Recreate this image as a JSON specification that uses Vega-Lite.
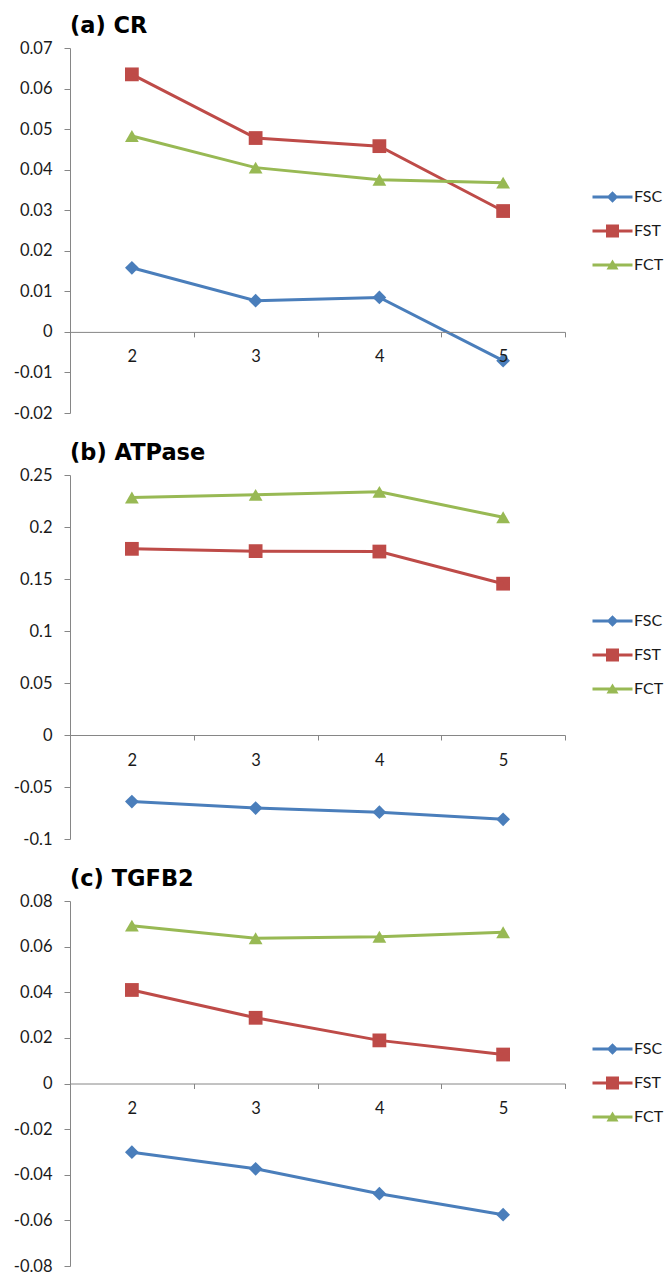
{
  "$schema": "https://vega.github.io/schema/vega-lite/v6.json",
  "background": "white",
  "padding": {"left": 10, "top": 15, "right": 0, "bottom": 0},
  "config": {
    "view": {"stroke": null},
    "font": "Lato",
    "concat": {"spacing": 20},
    "title": {"anchor": "start", "frame": "group", "font": "DejaVu Sans", "fontSize": 22.5, "fontWeight": "bold", "color": "#000000", "baseline": "alphabetic", "offset": 2.5},
    "axis": {"grid": false, "domainColor": "#868686", "tickColor": "#868686", "labelColor": "#1a1a1a", "labelFont": "Lato", "labelFontSize": 16.5, "title": null},
    "legend": {"title": null, "symbolSize": 100, "labelOffset": 13.5, "labelFontSize": 16, "labelFont": "Lato", "labelColor": "#1a1a1a", "rowPadding": 18, "symbolStrokeWidth": 0}
  },
  "data": {"values": [
    {"panel": "a", "k": 2, "series": "FSC", "value": 0.0158},
    {"panel": "a", "k": 3, "series": "FSC", "value": 0.0077},
    {"panel": "a", "k": 4, "series": "FSC", "value": 0.0085},
    {"panel": "a", "k": 5, "series": "FSC", "value": -0.0071},
    {"panel": "a", "k": 2, "series": "FST", "value": 0.0635},
    {"panel": "a", "k": 3, "series": "FST", "value": 0.0478},
    {"panel": "a", "k": 4, "series": "FST", "value": 0.0458},
    {"panel": "a", "k": 5, "series": "FST", "value": 0.0298},
    {"panel": "a", "k": 2, "series": "FCT", "value": 0.0483},
    {"panel": "a", "k": 3, "series": "FCT", "value": 0.0405},
    {"panel": "a", "k": 4, "series": "FCT", "value": 0.0375},
    {"panel": "a", "k": 5, "series": "FCT", "value": 0.0368},
    {"panel": "b", "k": 2, "series": "FSC", "value": -0.064},
    {"panel": "b", "k": 3, "series": "FSC", "value": -0.0703},
    {"panel": "b", "k": 4, "series": "FSC", "value": -0.0742},
    {"panel": "b", "k": 5, "series": "FSC", "value": -0.0811},
    {"panel": "b", "k": 2, "series": "FST", "value": 0.179},
    {"panel": "b", "k": 3, "series": "FST", "value": 0.1768},
    {"panel": "b", "k": 4, "series": "FST", "value": 0.1764},
    {"panel": "b", "k": 5, "series": "FST", "value": 0.1455},
    {"panel": "b", "k": 2, "series": "FCT", "value": 0.2283},
    {"panel": "b", "k": 3, "series": "FCT", "value": 0.2309},
    {"panel": "b", "k": 4, "series": "FCT", "value": 0.2338},
    {"panel": "b", "k": 5, "series": "FCT", "value": 0.2093},
    {"panel": "c", "k": 2, "series": "FSC", "value": -0.0301},
    {"panel": "c", "k": 3, "series": "FSC", "value": -0.0374},
    {"panel": "c", "k": 4, "series": "FSC", "value": -0.0483},
    {"panel": "c", "k": 5, "series": "FSC", "value": -0.0575},
    {"panel": "c", "k": 2, "series": "FST", "value": 0.041},
    {"panel": "c", "k": 3, "series": "FST", "value": 0.0288},
    {"panel": "c", "k": 4, "series": "FST", "value": 0.0189},
    {"panel": "c", "k": 5, "series": "FST", "value": 0.0127},
    {"panel": "c", "k": 2, "series": "FCT", "value": 0.0692},
    {"panel": "c", "k": 3, "series": "FCT", "value": 0.0637},
    {"panel": "c", "k": 4, "series": "FCT", "value": 0.0643},
    {"panel": "c", "k": 5, "series": "FCT", "value": 0.0663}
  ]},
  "resolve": {"scale": {"y": "independent", "x": "independent", "color": "independent", "shape": "independent"}, "legend": {"color": "independent"}},
  "vconcat": [
    {
      "width": 495, "height": 365,
      "title": {"text": "(a) CR"},
      "transform": [{"filter": "datum.panel === 'a'"}],
      "encoding": {
        "x": {"field": "k", "type": "ordinal", "scale": {"type": "band", "paddingInner": 0, "paddingOuter": 0}, "axis": {"labelAngle": 0, "tickBand": "extent", "tickSize": 5, "labelPadding": 12, "offset": -81.1, "zindex": 1}},
        "y": {"field": "value", "type": "quantitative", "scale": {"domain": [-0.02, 0.07], "nice": false, "zero": false}, "axis": {"values": [-0.02, -0.01, 0, 0.01, 0.02, 0.03, 0.04, 0.05, 0.06, 0.07], "format": "~g", "labelExpr": "replace(datum.label, '\u2212', '-')", "tickSize": 6, "labelPadding": 12, "minExtent": 60, "maxExtent": 60}}
      },
      "layer": [
        {"mark": {"type": "point", "filled": true, "opacity": 1, "size": 190}, "encoding": {
          "color": {"field": "series", "type": "nominal", "scale": {"domain": ["FSC", "FST", "FCT"], "range": ["#4A7EBB", "#BE4B48", "#98B954"]}, "legend": {"orient": "none", "legendX": 534.5, "legendY": 141, "symbolType": {"expr": "datum.value === 'FSC' ? 'M-4,-0.3H4V0.3H-4ZM0,-1.15L1.15,0L0,1.15L-1.15,0Z' : datum.value === 'FST' ? 'M-4,-0.3H4V0.3H-4ZM-1.3,-1.3H1.3V1.3H-1.3Z' : 'M-4,-0.3H4V0.3H-4ZM0,-1.1L1.2,0.9H-1.2Z'"}}},
          "shape": {"field": "series", "type": "nominal", "scale": {"domain": ["FCT", "FSC", "FST"], "range": ["triangle-up", "diamond", "square"]}, "legend": null}
        }},
        {"mark": {"type": "line", "strokeWidth": 3}, "encoding": {"color": {"field": "series", "type": "nominal", "scale": {"domain": ["FSC", "FST", "FCT"], "range": ["#4A7EBB", "#BE4B48", "#98B954"]}}}}
      ]
    },
    {
      "width": 495, "height": 364,
      "title": {"text": "(b) ATPase"},
      "transform": [{"filter": "datum.panel === 'b'"}],
      "encoding": {
        "x": {"field": "k", "type": "ordinal", "scale": {"type": "band", "paddingInner": 0, "paddingOuter": 0}, "axis": {"labelAngle": 0, "tickBand": "extent", "tickSize": 5, "labelPadding": 12, "offset": -104, "zindex": 1}},
        "y": {"field": "value", "type": "quantitative", "scale": {"domain": [-0.1, 0.25], "nice": false, "zero": false}, "axis": {"values": [-0.1, -0.05, 0, 0.05, 0.1, 0.15, 0.2, 0.25], "format": "~g", "labelExpr": "replace(datum.label, '\u2212', '-')", "tickSize": 6, "labelPadding": 12, "minExtent": 60, "maxExtent": 60}}
      },
      "layer": [
        {"mark": {"type": "point", "filled": true, "opacity": 1, "size": 190}, "encoding": {
          "color": {"field": "series", "type": "nominal", "scale": {"domain": ["FSC", "FST", "FCT"], "range": ["#4A7EBB", "#BE4B48", "#98B954"]}, "legend": {"orient": "none", "legendX": 534.5, "legendY": 138, "symbolType": {"expr": "datum.value === 'FSC' ? 'M-4,-0.3H4V0.3H-4ZM0,-1.15L1.15,0L0,1.15L-1.15,0Z' : datum.value === 'FST' ? 'M-4,-0.3H4V0.3H-4ZM-1.3,-1.3H1.3V1.3H-1.3Z' : 'M-4,-0.3H4V0.3H-4ZM0,-1.1L1.2,0.9H-1.2Z'"}}},
          "shape": {"field": "series", "type": "nominal", "scale": {"domain": ["FCT", "FSC", "FST"], "range": ["triangle-up", "diamond", "square"]}, "legend": null}
        }},
        {"mark": {"type": "line", "strokeWidth": 3}, "encoding": {"color": {"field": "series", "type": "nominal", "scale": {"domain": ["FSC", "FST", "FCT"], "range": ["#4A7EBB", "#BE4B48", "#98B954"]}}}}
      ]
    },
    {
      "width": 495, "height": 365,
      "title": {"text": "(c) TGFB2"},
      "transform": [{"filter": "datum.panel === 'c'"}],
      "encoding": {
        "x": {"field": "k", "type": "ordinal", "scale": {"type": "band", "paddingInner": 0, "paddingOuter": 0}, "axis": {"labelAngle": 0, "tickBand": "extent", "tickSize": 5, "labelPadding": 12, "offset": -182.5, "zindex": 1}},
        "y": {"field": "value", "type": "quantitative", "scale": {"domain": [-0.08, 0.08], "nice": false, "zero": false}, "axis": {"values": [-0.08, -0.06, -0.04, -0.02, 0, 0.02, 0.04, 0.06, 0.08], "format": "~g", "labelExpr": "replace(datum.label, '\u2212', '-')", "tickSize": 6, "labelPadding": 12, "minExtent": 60, "maxExtent": 60}}
      },
      "layer": [
        {"mark": {"type": "point", "filled": true, "opacity": 1, "size": 190}, "encoding": {
          "color": {"field": "series", "type": "nominal", "scale": {"domain": ["FSC", "FST", "FCT"], "range": ["#4A7EBB", "#BE4B48", "#98B954"]}, "legend": {"orient": "none", "legendX": 534.5, "legendY": 140, "symbolType": {"expr": "datum.value === 'FSC' ? 'M-4,-0.3H4V0.3H-4ZM0,-1.15L1.15,0L0,1.15L-1.15,0Z' : datum.value === 'FST' ? 'M-4,-0.3H4V0.3H-4ZM-1.3,-1.3H1.3V1.3H-1.3Z' : 'M-4,-0.3H4V0.3H-4ZM0,-1.1L1.2,0.9H-1.2Z'"}}},
          "shape": {"field": "series", "type": "nominal", "scale": {"domain": ["FCT", "FSC", "FST"], "range": ["triangle-up", "diamond", "square"]}, "legend": null}
        }},
        {"mark": {"type": "line", "strokeWidth": 3}, "encoding": {"color": {"field": "series", "type": "nominal", "scale": {"domain": ["FSC", "FST", "FCT"], "range": ["#4A7EBB", "#BE4B48", "#98B954"]}}}}
      ]
    }
  ]
}
